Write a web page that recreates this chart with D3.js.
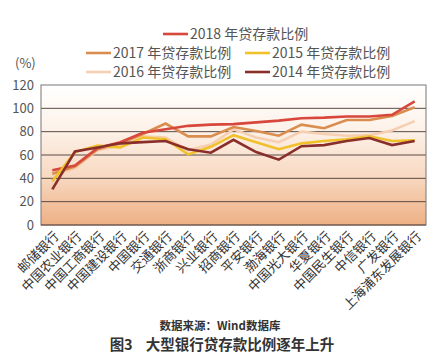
<!DOCTYPE html>
<html><head><meta charset="utf-8">
<script src="https://cdn.jsdelivr.net/npm/d3@7"></script>
<style>html,body{margin:0;padding:0;background:#fff;}svg{display:block;}</style>
</head><body>
<script>
const banks = ["邮储银行","中国农业银行","中国工商银行","中国建设银行","中国银行","交通银行","浙商银行","兴业银行","招商银行","平安银行","渤海银行","中国光大银行","华夏银行","中国民生银行","中信银行","广发银行","上海浦东发展银行"];
const y2018 = [47, 51, 66, 71, 79, 82, 85, 86, 86.5, 88, 89.5, 91.5, 92, 93, 93, 94.5, 106];
const y2017 = [44, 50, 65, 70, 78, 87, 76, 76, 84, 80.5, 76.5, 86, 83, 90, 90, 93.5, 101];
const y2016 = [42, 48.5, 64, 68, 76, 75, 64, 69, 82, 75, 71, 80, 78, 76.5, 77, 81, 89];
const y2015 = [37.5, 62.5, 68, 66.5, 75, 73.5, 60.5, 67, 77, 71, 65, 70, 72, 73.5, 76, 72, 72.5];
const y2014 = [30.5, 63, 66.5, 70, 71, 72, 65, 62, 73, 62.5, 56, 67.5, 68.5, 72, 74.5, 68.5, 72];
const yTicks = [0, 20, 40, 60, 80, 100, 120];
const seriesNames = ["2018 年贷存款比例","2017 年贷存款比例","2016 年贷存款比例","2015 年贷存款比例","2014 年贷存款比例"];
const seriesColors = ["#d8473b","#d98d4e","#f6cfb2","#f0c12a","#8a2e2c"];
const seriesData = [y2018, y2017, y2016, y2015, y2014];

const W = 443, H = 358;
const L = 41, R = 426, T = 85, B = 225;
const FONT = "'Noto Sans CJK SC','Noto Sans',sans-serif";

const svg = d3.select("body").append("svg").attr("width", W).attr("height", H);
const defs = svg.append("defs");
const grad = defs.append("linearGradient").attr("id","bg").attr("x1",0).attr("y1",0).attr("x2",0).attr("y2",1);
grad.append("stop").attr("offset","0%").attr("stop-color","#ffffff");
grad.append("stop").attr("offset","30%").attr("stop-color","#fdf3ea");
grad.append("stop").attr("offset","65%").attr("stop-color","#f8d9c2");
grad.append("stop").attr("offset","100%").attr("stop-color","#eeb084");

const x = d3.scalePoint().domain(banks).range([L, R]).padding(0.5);
const y = d3.scaleLinear().domain([0, 120]).range([B, T]);

svg.append("rect").attr("x", L).attr("y", T).attr("width", R - L).attr("height", B - T).attr("fill", "url(#bg)");

// gridlines
svg.append("g").selectAll("line").data(yTicks.filter(t => t > 0 && t < 120)).join("line")
  .attr("x1", L).attr("x2", R).attr("y1", d => y(d)).attr("y2", d => y(d))
  .attr("stroke", "#5a4a44").attr("stroke-width", 1);

// frame
svg.append("rect").attr("x", L).attr("y", T).attr("width", R - L).attr("height", B - T)
  .attr("fill", "none").attr("stroke", "#777").attr("stroke-width", 1);
svg.append("line").attr("x1", L).attr("x2", R).attr("y1", B).attr("y2", B).attr("stroke", "#6b4a3a").attr("stroke-width", 1.2);

// y axis labels
const yAxis = d3.axisLeft(y).tickValues(yTicks).tickSize(0).tickPadding(7);
const ya = svg.append("g").attr("transform", `translate(${L},0)`).call(yAxis);
ya.select(".domain").remove();
ya.selectAll("text").attr("font-family", FONT).attr("font-size", 13).attr("fill", "#555");

// x axis labels
const xAxis = d3.axisBottom(x).tickSize(0);
const xa = svg.append("g").attr("transform", `translate(0,${B})`).call(xAxis);
xa.select(".domain").remove();
xa.selectAll("text")
  .attr("font-family", FONT).attr("font-size", 13).attr("fill", "#333")
  .attr("text-anchor", "end")
  .attr("y", 0).attr("dy", 0)
  .attr("transform", "translate(7,12) rotate(-45)");

// lines
const line = d3.line().x((d, i) => x(banks[i])).y(d => y(d));
const order = [2, 1, 0, 3, 4];
order.forEach(k => {
  svg.append("path").datum(seriesData[k]).attr("d", line)
    .attr("fill", "none").attr("stroke", seriesColors[k]).attr("stroke-width", 2.6)
    .attr("stroke-linejoin", "miter");
});

// legend
const legendPos = [[163, 34], [86, 53], [86, 72], [245, 53], [245, 72]];
seriesNames.forEach((name, k) => {
  const [lx, ly] = legendPos[k];
  const g = svg.append("g").attr("transform", `translate(${lx},${ly})`);
  g.append("line").attr("x1", 0).attr("x2", 25).attr("y1", 0).attr("y2", 0)
    .attr("stroke", seriesColors[k]).attr("stroke-width", 2.6);
  g.append("text").attr("x", 27).attr("y", 0).attr("dy", "0.35em")
    .attr("font-family", FONT).attr("font-size", 14).attr("fill", "#555").text(name);
});

svg.append("text").attr("x", 15).attr("y", 63).attr("dy", "0.35em")
  .attr("font-family", FONT).attr("font-size", 13).attr("fill", "#555").text("(%)");

svg.append("text").attr("x", 220).attr("y", 326).attr("dy", "0.35em").attr("text-anchor", "middle")
  .attr("font-family", FONT).attr("font-size", 11.5).attr("font-weight", "bold").attr("fill", "#333").text("数据来源：Wind数据库");
svg.append("text").attr("x", 222).attr("y", 345).attr("dy", "0.35em").attr("text-anchor", "middle")
  .attr("font-family", FONT).attr("font-size", 14.5).attr("font-weight", "bold").attr("fill", "#333")
  .attr("xml:space", "preserve").text("图3    大型银行贷存款比例逐年上升");
</script>
</body></html>
